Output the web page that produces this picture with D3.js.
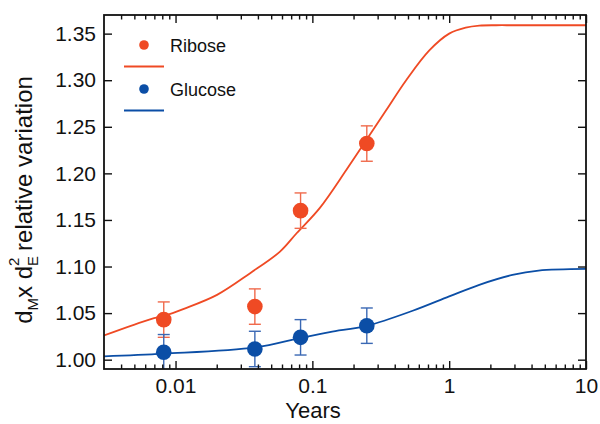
<!DOCTYPE html>
<html>
<head>
<meta charset="utf-8">
<script src="https://cdn.jsdelivr.net/npm/d3@7"></script>
<style>
  html, body { margin: 0; padding: 0; background: #fff; }
  svg { display: block; }
  text { font-family: "Liberation Sans", Arial, sans-serif; fill: #111; }
</style>
</head>
<body>
<svg id="chart" width="600" height="424"></svg>
<script>
// ---- Data ----
const years = [0.0082, 0.038, 0.082, 0.25];
const riboseVals = [1.043, 1.057, 1.160, 1.232];
const riboseErr = [0.019, 0.019, 0.019, 0.019];
const glucoseVals = [1.008, 1.0115, 1.024, 1.0365];
const glucoseErr = [0.019, 0.019, 0.019, 0.019];

const riboseCurveX = [0.003, 0.0066, 0.0082, 0.0115, 0.0201, 0.0351, 0.058, 0.0767, 0.1135, 0.177, 0.248, 0.347, 0.485, 0.716, 1.0, 1.32, 1.66, 2.2, 3, 10];
const riboseCurveY = [1.026, 1.0436, 1.047, 1.0546, 1.0696, 1.0929, 1.116, 1.1357, 1.163, 1.2036, 1.2357, 1.268, 1.300, 1.332, 1.350, 1.3564, 1.3586, 1.359, 1.359, 1.359];

const glucoseCurveX = [0.003, 0.0082, 0.0383, 0.082, 0.134, 0.25, 0.541, 1.0, 1.66, 2.9, 4.5, 10];
const glucoseCurveY = [1.0035, 1.0064, 1.0132, 1.0235, 1.0297, 1.0364, 1.0525, 1.0679, 1.0804, 1.091, 1.0957, 1.0975];

const xTickVals = [0.01, 0.1, 1, 10];
const xTickLabels = ["0.01", "0.1", "1", "10"];
const yTickVals = [1.00, 1.05, 1.10, 1.15, 1.20, 1.25, 1.30, 1.35];
const yTickLabels = ["1.00", "1.05", "1.10", "1.15", "1.20", "1.25", "1.30", "1.35"];

const seriesNames = ["Ribose", "Glucose"];
const colors = { Ribose: "#ef4a24", Glucose: "#0b4ea6" };
const errColors = { Ribose: "#f06a4c", Glucose: "#3a68b4" };

// ---- Layout ----
const svg = d3.select("#chart");
const L = 104, R = 586, T = 15, B = 369;

const x = d3.scaleLog().domain([0.003, 10]).range([L, R]);
const y = d3.scaleLinear().domain([0.99, 1.37]).range([B, T]);

// minor ticks for log axis
const minorX = [];
[0.001, 0.01, 0.1, 1].forEach(dec => {
  for (let k = 2; k <= 9; k++) {
    const v = dec * k;
    if (v > 0.003 && v < 10 && !xTickVals.includes(v)) minorX.push(v);
  }
});

const clipId = "plotclip";
svg.append("defs").append("clipPath").attr("id", clipId)
  .append("rect").attr("x", L).attr("y", T).attr("width", R - L).attr("height", B - T);

const plot = svg.append("g").attr("clip-path", `url(#${clipId})`);

// curves
const line = d3.line().x(d => x(d[0])).y(d => y(d[1])).curve(d3.curveCatmullRom.alpha(0.5));
const curves = {
  Ribose: riboseCurveX.map((v, i) => [v, riboseCurveY[i]]),
  Glucose: glucoseCurveX.map((v, i) => [v, glucoseCurveY[i]])
};
const points = {
  Ribose: years.map((v, i) => ({ x: v, y: riboseVals[i], e: riboseErr[i] })),
  Glucose: years.map((v, i) => ({ x: v, y: glucoseVals[i], e: glucoseErr[i] }))
};

seriesNames.forEach(name => {
  plot.append("path").datum(curves[name])
    .attr("fill", "none").attr("stroke", colors[name]).attr("stroke-width", 1.8)
    .attr("d", line);
});

seriesNames.forEach(name => {
  const g = plot.append("g");
  const capW = 6;
  points[name].forEach(p => {
    const cx = x(p.x);
    const y1 = y(p.y + p.e), y0 = y(p.y - p.e);
    g.append("line").attr("x1", cx).attr("x2", cx).attr("y1", y1).attr("y2", y0)
      .attr("stroke", errColors[name]).attr("stroke-width", 1.4);
    [y1, y0].forEach(yy => g.append("line").attr("x1", cx - capW).attr("x2", cx + capW)
      .attr("y1", yy).attr("y2", yy).attr("stroke", errColors[name]).attr("stroke-width", 1.4));
  });
  g.selectAll("circle").data(points[name]).enter().append("circle")
    .attr("cx", d => x(d.x)).attr("cy", d => y(d.y)).attr("r", 7.8)
    .attr("fill", colors[name]);
});

// ---- Axes (ticks inward) ----
const axisStroke = "#111";
const axBottom = d3.axisBottom(x).tickValues(xTickVals).tickFormat((d, i) => xTickLabels[i]).tickSizeInner(-8).tickSizeOuter(0).tickPadding(9);
const axBottomMinor = d3.axisBottom(x).tickValues(minorX).tickFormat("").tickSizeInner(-4.5).tickSizeOuter(0);
const axTop = d3.axisTop(x).tickValues(xTickVals).tickFormat("").tickSizeInner(-8).tickSizeOuter(0);
const axTopMinor = d3.axisTop(x).tickValues(minorX).tickFormat("").tickSizeInner(-4.5).tickSizeOuter(0);
const axLeft = d3.axisLeft(y).tickValues(yTickVals).tickFormat((d, i) => yTickLabels[i]).tickSizeInner(-8).tickSizeOuter(0).tickPadding(8);
const axRight = d3.axisRight(y).tickValues(yTickVals).tickFormat("").tickSizeInner(-8).tickSizeOuter(0);

function styleAxis(g) {
  g.select(".domain").remove();
  g.selectAll(".tick line").attr("stroke", axisStroke).attr("stroke-width", 1.4);
  g.selectAll(".tick text").attr("font-family", "Liberation Sans, Arial, sans-serif").attr("font-size", 21).attr("fill", "#111");
}
svg.append("g").attr("transform", `translate(0,${B})`).call(axBottom).call(styleAxis);
svg.append("g").attr("transform", `translate(0,${B})`).call(axBottomMinor).call(styleAxis);
svg.append("g").attr("transform", `translate(0,${T})`).call(axTop).call(styleAxis);
svg.append("g").attr("transform", `translate(0,${T})`).call(axTopMinor).call(styleAxis);
svg.append("g").attr("transform", `translate(${L},0)`).call(axLeft).call(styleAxis);
svg.append("g").attr("transform", `translate(${R},0)`).call(axRight).call(styleAxis);

// frame
svg.append("rect").attr("x", L).attr("y", T).attr("width", R - L).attr("height", B - T)
  .attr("fill", "none").attr("stroke", axisStroke).attr("stroke-width", 1.8);

// axis titles
svg.append("text").attr("x", 313).attr("y", 418).attr("text-anchor", "middle")
  .attr("font-size", 22).text("Years");

const yl = svg.append("text").attr("transform", "translate(32,200) rotate(-90)")
  .attr("text-anchor", "middle").attr("font-size", 24);
yl.append("tspan").text("d");
yl.append("tspan").attr("font-size", 15).attr("dy", 6).text("M");
yl.append("tspan").attr("dy", -6).text("x d");
yl.append("tspan").attr("font-size", 15).attr("dy", 6).text("E");
yl.append("tspan").attr("font-size", 15).attr("dx", -10).attr("dy", -19).text("2");
yl.append("tspan").attr("dy", 13).text(" relative variation");

// legend
const legend = svg.append("g");
seriesNames.forEach((name, i) => {
  const yy = 45 + i * 44;
  legend.append("circle").attr("cx", 144).attr("cy", yy).attr("r", 4.8).attr("fill", colors[name]);
  legend.append("text").attr("x", 170).attr("y", yy + 6.5).attr("font-size", 18).text(name);
  legend.append("line").attr("x1", 124).attr("x2", 164).attr("y1", yy + 21.5).attr("y2", yy + 21.5)
    .attr("stroke", colors[name]).attr("stroke-width", 1.8);
});
</script>
</body>
</html>
